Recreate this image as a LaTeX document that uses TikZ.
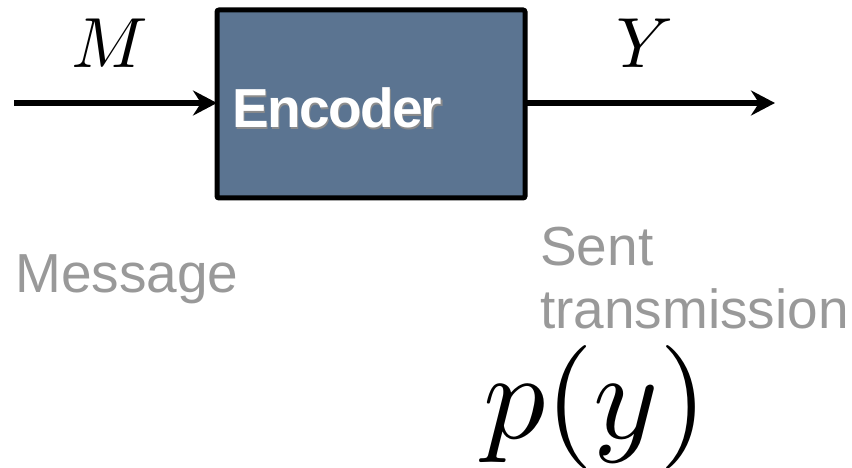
\documentclass[tikz,border=0pt]{standalone}
\usepackage{graphicx}
\usepackage{fontspec}
\setmainfont{Liberation Sans}
\usetikzlibrary{arrows.meta}
\definecolor{boxblue}{HTML}{5B7491}
\definecolor{labelgray}{HTML}{999999}
\tikzset{
  x=1pt, y=-1pt,
  flow/.style={line width=6.5pt, -{Stealth[length=24pt,width=25pt,inset=8pt]}},
  blockbox/.style={draw=black, line width=5pt, fill=boxblue, rounded corners=2pt},
  caption/.style={text=labelgray, font=\fontsize{55}{65}\selectfont, inner sep=0pt, align=left},
  blocktext/.style={inner sep=0pt, anchor=base west, font=\bfseries\fontsize{55}{60}\selectfont},
  symb/.style={inner sep=0pt},
}
\begin{document}
\begin{tikzpicture}
\useasboundingbox (0,0) rectangle (852,468);
% encoder block
\draw[blockbox] (217,10) rectangle (525,198);
\coordinate (encW) at (217,103);
\coordinate (encE) at (525,103);
\coordinate (inStart) at (14,103);
\coordinate (outEnd) at (775,103);
\node (encshadow) [blocktext, text=black!45] at (233.5,129.5) {\addfontfeature{LetterSpace=-3}Encoder};
\node (enc) [blocktext, text=white] at (232,128) {\addfontfeature{LetterSpace=-3}Encoder};
% signal arrows
\draw[flow] (inStart) -- (encW);
\draw[flow] (encE) -- (outEnd);
% symbols
\node (M) [symb, anchor=base] at (110,68) {\scalebox{7.1}{$M$}};
\node (Y) [symb, anchor=base] at (645,68) {\scalebox{7.1}{$Y$}};
% captions
\node (msg) [caption, anchor=base west] at (15,292) {Message};
\node (sent) [caption, anchor=base west] at (540,265) {Sent};
\node (trans) [caption, anchor=base west] at (540,328) {transmission};
\node (py) [symb, anchor=base west] at (483,438) {\scalebox{12.4}{$p(y)$}};
\end{tikzpicture}
\end{document}
